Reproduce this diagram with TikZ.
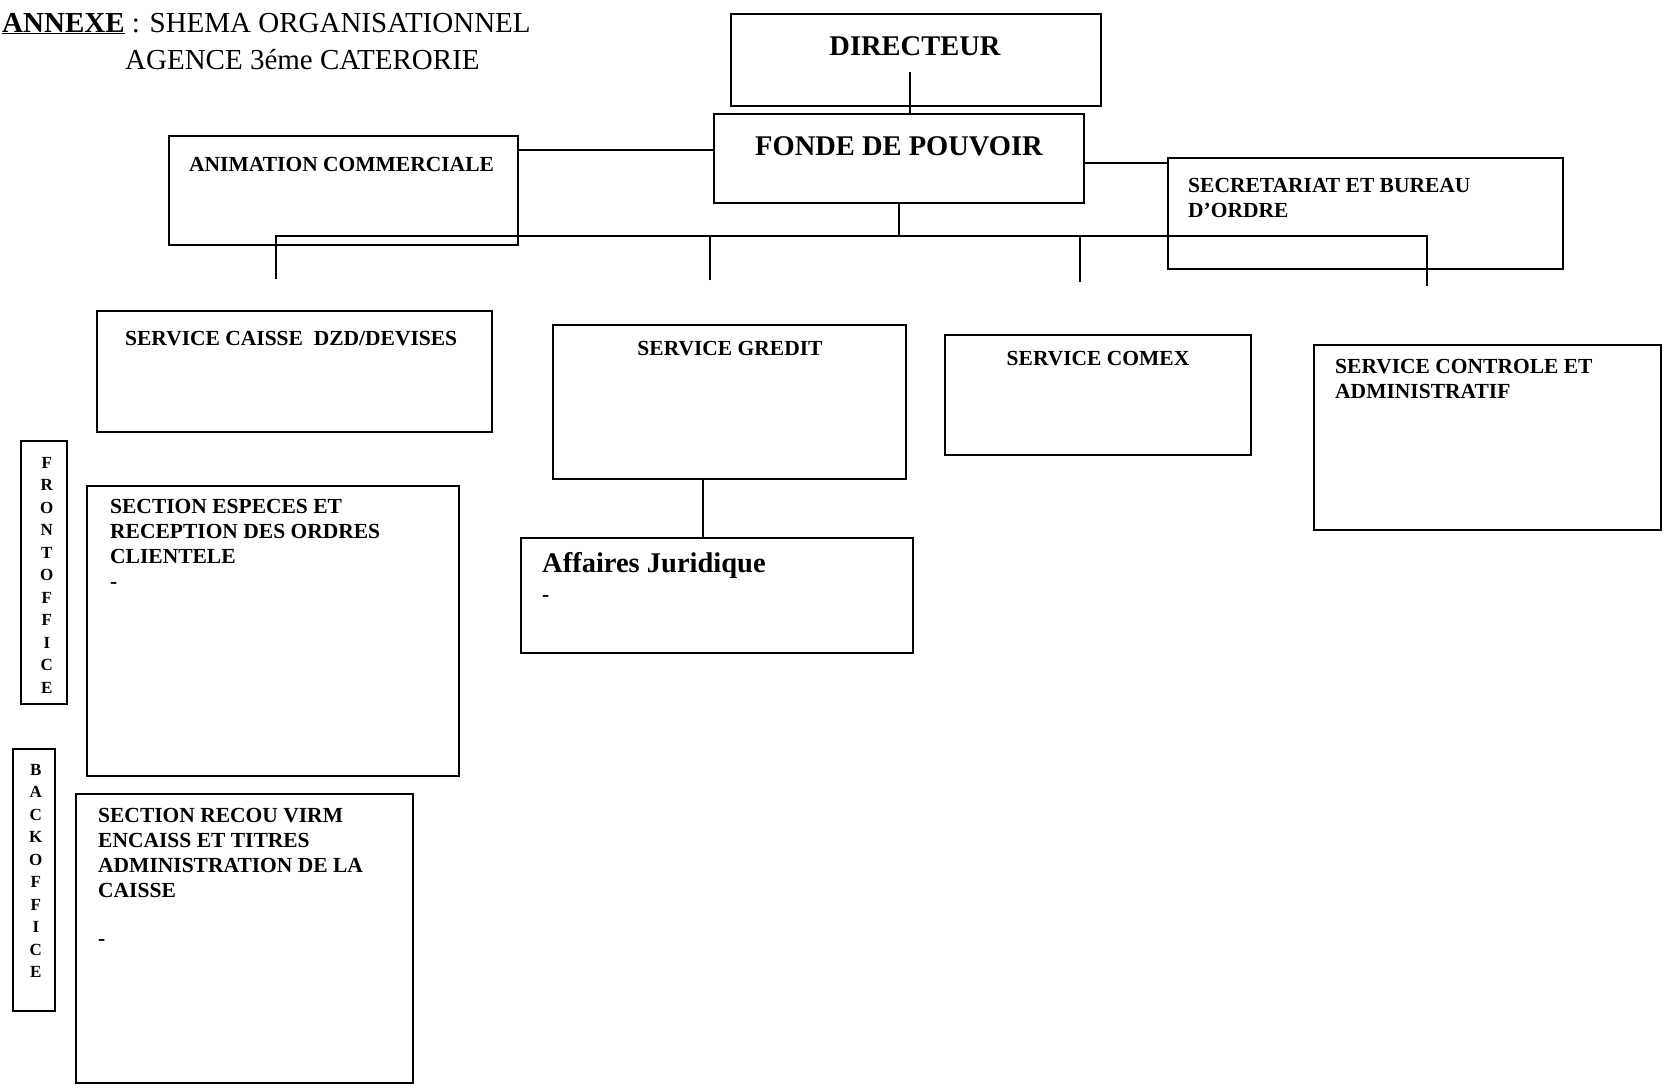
\documentclass[tikz,border=0pt]{standalone}
\usepackage{fontspec}
\setmainfont{Liberation Serif}
\begin{document}
\begin{tikzpicture}[x=1pt,y=-1pt,
  box/.style={draw, line width=1.7pt, rectangle, inner sep=0pt, anchor=north west},
  bt/.style={font=\fontsize{21.5}{25}\selectfont\bfseries, anchor=base west, inner sep=0pt, align=left},
  mt/.style={bt, anchor=north west},
  big/.style={font=\fontsize{28.5}{30}\selectfont\bfseries, anchor=base, inner sep=0pt},
  conn/.style={line width=1.7pt},
  vl/.style={font=\fontsize{17}{22.5}\selectfont\bfseries, inner sep=0pt, align=center}
]
\useasboundingbox[fill=white] (0,0) rectangle (1664,1088);

% title
\node[anchor=base west, inner sep=0pt, font=\fontsize{29}{30}\selectfont] (title1) at (2,32)
  {\underline{\textbf{ANNEXE}} : SHEMA ORGANISATIONNEL};
\node[anchor=base west, inner sep=0pt, font=\fontsize{29}{30}\selectfont] (title2) at (125,69)
  {AGENCE 3éme CATERORIE};

% boxes
\node[box, minimum width=370pt, minimum height=92pt] (dir) at (730,13) {};
\node[box, minimum width=370pt, minimum height=89pt] (fonde) at (713,113) {};
\node[box, minimum width=349pt, minimum height=109pt] (anim) at (168,135) {};
\node[box, minimum width=395pt, minimum height=111pt] (sec) at (1167,157) {};
\node[box, minimum width=395pt, minimum height=121pt] (caisse) at (96,310) {};
\node[box, minimum width=353pt, minimum height=154pt] (gredit) at (552,324) {};
\node[box, minimum width=306pt, minimum height=120pt] (comex) at (944,334) {};
\node[box, minimum width=347pt, minimum height=185pt] (controle) at (1313,344) {};
\node[box, minimum width=392pt, minimum height=115pt] (affaires) at (520,537) {};
\node[box, minimum width=46pt, minimum height=263pt] (front) at (20,440) {};
\node[box, minimum width=372pt, minimum height=290pt] (especes) at (86,485) {};
\node[box, minimum width=42pt, minimum height=262pt] (back) at (12,748) {};
\node[box, minimum width=337pt, minimum height=289pt] (recou) at (75,793) {};

% texts
\node[big] (dirt) at (915,55) {DIRECTEUR};
\node[big] (fondet) at (899,155) {FONDE DE POUVOIR};
\node[bt] (animt) at (189,171) {ANIMATION COMMERCIALE};
\node[mt] (sect) at (1188,178) {SECRETARIAT ET BUREAU\\D’ORDRE};
\node[bt] (caisset) at (125,345) {SERVICE CAISSE\ \ DZD/DEVISES};
\node[bt, anchor=base] (greditt) at (730,355) {SERVICE GREDIT};
\node[bt, anchor=base] (comext) at (1098,365) {SERVICE COMEX};
\node[mt] (controlet) at (1335,359) {SERVICE CONTROLE ET\\ADMINISTRATIF};
\node[big, anchor=base west] (affairest) at (542,572) {Affaires Juridique};
\node[bt] (affdash) at (542,601) {-};
\node[mt] (especest) at (110,499) {SECTION ESPECES ET\\RECEPTION DES ORDRES\\CLIENTELE\\-};
\node[mt] (recout) at (98,808) {SECTION RECOU VIRM\\ENCAISS ET TITRES\\ADMINISTRATION DE LA\\CAISSE};
\node[bt] (recoudash) at (98,945) {-};
\node[vl] (frontt) at ([shift={(3,3)}]front.center) {F\\R\\O\\N\\T\\O\\F\\F\\I\\C\\E};
\node[vl] (backt) at ([shift={(2,-9)}]back.center) {B\\A\\C\\K\\O\\F\\F\\I\\C\\E};

% connectors
\coordinate (dirstem) at (910,72);
\draw[conn] (dirstem) -- (dirstem |- fonde.north);
\coordinate (fl) at (0,150);
\coordinate (fr) at (0,163);
\draw[conn] (fonde.west |- fl) -- (anim.east |- fl);
\draw[conn] (fonde.east |- fr) -- (sec.west |- fr);
\coordinate (busL) at (276,236);
\coordinate (busR) at (1427,236);
\coordinate (d1) at (276,279);
\coordinate (d2) at (710,280);
\coordinate (d3) at (1080,282);
\coordinate (d4) at (1427,286);
\draw[conn] (fonde.south) -- (fonde.south |- busL);
\draw[conn] (d1) -- (busL) -- (busR) -- (d4);
\draw[conn] (d2) -- (d2 |- busL);
\draw[conn] (d3) -- (d3 |- busL);
\coordinate (gj) at (703,0);
\draw[conn] (gj |- gredit.south) -- (gj |- affaires.north);
\end{tikzpicture}
\end{document}
